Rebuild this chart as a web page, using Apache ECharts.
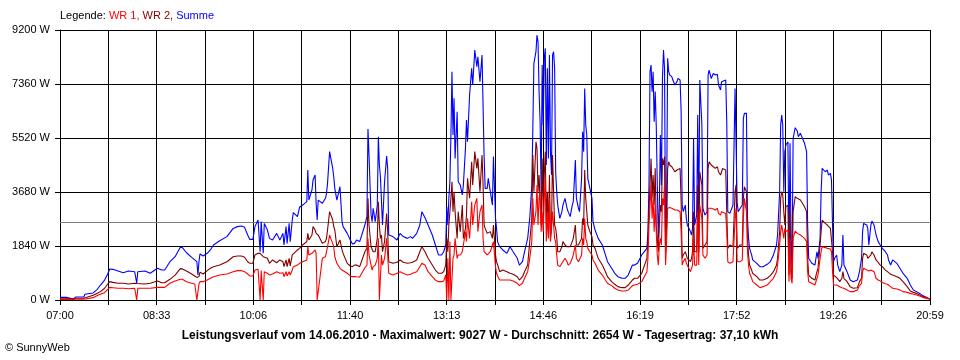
<!DOCTYPE html>
<html><head><meta charset="utf-8">
<script src="https://cdn.jsdelivr.net/npm/echarts@6/dist/echarts.min.js"></script>
<style>html,body{margin:0;padding:0;background:#fff}#c{width:960px;height:360px}</style>
</head><body><div id="c"></div>
<script>
const times = [
'07:00','07:06','07:07','07:13','07:15','07:23','07:24','07:32','07:36','07:39',
'07:43','07:46','07:48','07:51','07:56','08:01','08:06','08:12','08:14','08:15',
'08:22','08:27','08:34','08:38','08:41','08:46','08:51','08:56','08:58','09:02',
'09:07','09:10','09:12','09:13','09:14','09:15','09:18','09:22','09:25','09:28',
'09:34','09:41','09:47','09:51','09:55','09:58','10:01','10:03','10:06','10:08',
'10:11','10:13','10:14','10:16','10:17','10:20','10:22','10:25','10:29','10:32',
'10:35','10:36','10:38','10:39','10:41','10:42','10:44','10:45','10:49','10:51',
'10:54','10:58','10:59','11:00','11:03','11:04','11:06','11:07','11:08','11:09',
'11:13','11:16','11:17','11:18','11:20','11:21','11:23','11:24','11:25','11:27',
'11:30','11:32','11:33','11:37','11:40','11:42','11:44','11:46','11:49','11:50',
'11:54','11:56','11:57','11:58','12:00','12:01','12:02','12:04','12:06','12:07',
'12:08','12:09','12:10','12:11','12:13','12:15','12:16','12:17','12:21','12:25',
'12:28','12:31','12:35','12:38','12:40','12:44','12:47','12:49','12:52','12:55',
'12:59','13:02','13:05','13:08','13:10','13:12','13:13','13:14','13:15','13:16',
'13:17','13:18','13:19','13:20','13:21','13:23','13:24','13:26','13:28','13:29',
'13:31','13:32','13:33','13:35','13:37','13:38','13:40','13:42','13:43','13:45',
'13:47','13:48','13:49','13:50','13:52','13:53','13:55','13:57','13:58','14:00',
'14:01','14:02','14:04','14:07','14:11','14:14','14:17','14:21','14:23','14:26',
'14:28','14:31','14:33','14:35','14:36','14:37','14:39','14:40','14:41','14:42',
'14:43','14:44','14:45','14:46','14:47','14:48','14:49','14:50','14:51','14:52',
'14:53','14:54','14:55','14:56','14:57','14:58','14:59','15:00','15:02','15:04',
'15:05','15:07','15:09','15:10','15:12','15:14','15:15','15:17','15:18','15:20',
'15:21','15:23','15:24','15:25','15:26','15:27','15:28','15:29','15:31','15:33',
'15:34','15:36','15:39','15:43','15:46','15:48','15:52','15:55','15:58','16:02',
'16:05','16:08','16:12','16:14','16:17','16:21','16:22','16:26','16:27','16:28',
'16:29','16:30','16:31','16:32','16:33','16:34','16:35','16:36','16:37','16:38',
'16:39','16:40','16:41','16:42','16:43','16:44','16:45','16:46','16:47','16:48',
'16:50','16:51','16:53','16:55','16:56','16:58','16:59','17:00','17:01','17:03',
'17:04','17:05','17:08','17:09','17:10','17:11','17:12','17:14','17:15','17:16',
'17:17','17:19','17:20','17:22','17:24','17:25','17:26','17:28','17:30','17:32',
'17:34','17:35','17:37','17:38','17:39','17:42','17:43','17:44','17:46','17:49',
'17:51','17:52','17:53','17:54','17:56','17:58','17:59','18:00','18:02','18:03',
'18:04','18:05','18:07','18:08','18:12','18:15','18:18','18:22','18:25','18:28',
'18:31','18:32','18:34','18:35','18:36','18:37','18:38','18:39','18:40','18:42',
'18:43','18:44','18:45','18:46','18:47','18:49','18:51','18:52','18:54','18:56',
'18:57','18:58','19:00','19:01','19:02','19:05','19:08','19:10','19:11','19:13',
'19:14','19:15','19:18','19:20','19:21','19:23','19:24','19:25','19:26','19:27',
'19:29','19:30','19:32','19:34','19:35','19:36','19:39','19:42','19:45','19:49',
'19:51','19:53','19:54','19:55','19:58','19:59','20:00','20:02','20:03','20:05',
'20:07','20:09','20:11','20:13','20:16','20:18','20:19','20:21','20:23','20:27',
'20:30','20:33','20:37','20:40','20:43','20:46','20:49','20:52','20:56','20:59'
];
const summe = [
90,90,30,30,100,100,195,240,365,510,
680,885,1055,1045,990,930,990,965,570,965,
990,910,1080,1020,1020,1305,1475,1795,1785,1610,
1455,1365,1305,850,1305,1570,1500,1590,1705,1875,
2020,2160,2440,2500,2520,2475,2215,2065,2065,2500,
2725,1645,2670,1590,2610,2385,2100,2045,2270,2045,
2270,1875,2500,1930,2610,1990,2725,2975,2840,3160,
3235,3350,4430,3405,3750,4090,4260,3295,2725,3405,
3295,3465,3635,3975,5055,5000,4485,4200,3805,3405,
3860,2670,2500,2270,2045,1910,1930,2045,1990,1930,
2555,2840,5825,4940,2895,2670,3125,2670,3235,5565,
4600,4200,4200,2555,4030,4905,4485,2215,2160,2045,
2270,2160,2100,2160,2100,2270,2555,3010,2805,2555,
2215,1875,1535,1535,1645,1875,3180,2555,3465,4030,
5620,7780,5620,6870,4825,6415,4030,3920,3580,3920,
5165,6135,5395,6985,7895,7325,8520,7950,8290,7440,
8350,8350,4885,3805,3805,4145,3690,3235,4885,2780,
2440,1990,1815,1705,1590,1815,1645,1420,1190,1305,
1645,2100,2780,3920,5850,8065,8460,9030,8800,7100,
6075,3690,8005,5960,8235,8575,4600,7895,4825,8350,
5055,4260,8350,8460,7895,4370,3690,3235,2780,3010,
3235,3465,3125,3010,2840,3235,3350,4770,3465,3125,
3010,4145,5735,5055,7210,5960,5620,4145,3805,3465,
2670,2385,2100,1875,1535,1305,1080,910,795,740,
740,850,1190,1190,1250,1535,1535,1760,2330,3920,
7780,8005,7100,7780,6075,7100,5960,3920,2100,3235,
5620,3920,7550,8520,7895,1990,3235,8235,7780,7665,
7610,7495,7325,7440,7550,7495,6415,3235,3010,3235,
2780,2555,2330,2215,2440,5510,2555,2895,6300,2555,
7495,5960,3125,2895,3010,7665,7835,7550,7720,7665,
7690,7325,7155,7440,7495,7495,6075,3010,2950,3235,
7210,7270,3350,3010,3125,3235,6190,6360,6360,2780,
2100,1760,1535,1365,1250,1135,1135,1215,1305,1535,
1875,2215,3690,5960,6300,5960,3690,5055,5280,5395,
1420,5340,1990,1190,5510,5870,5760,5565,5680,5510,
5450,5340,5055,2555,1420,1250,1190,1645,1420,2100,
3690,4485,4370,4430,4260,4315,4090,2555,1305,1420,
1535,1190,965,1190,2215,1190,965,680,625,680,
965,1420,2330,2610,2555,2440,1875,2555,2690,2555,
2215,1990,1875,1760,1645,1535,1365,1190,1365,1250,
1080,910,740,510,340,285,225,150,80,35
];
const wr2 = [
45,45,30,45,60,60,115,160,230,285,
400,545,625,600,570,570,545,570,560,570,
545,570,650,590,590,705,850,1070,1060,990,
885,820,770,770,800,950,885,1000,1080,1135,
1190,1305,1475,1500,1500,1455,1305,1250,1250,1535,
1590,1590,1535,1475,1475,1420,1250,1365,1270,1365,
1305,1135,1365,1135,1420,1160,1535,1590,1705,1760,
1875,1990,2270,2045,2215,2500,2385,2270,2215,2215,
1930,1990,2100,2385,3010,2950,2725,2500,2385,1815,
2045,1705,1590,1250,1160,1135,1190,1190,1135,1160,
1645,1760,3465,2555,1815,1760,1645,1645,2100,3350,
2555,2100,2215,1645,1990,2950,2330,1305,1250,1285,
1365,1285,1250,1270,1285,1365,1645,1815,1645,1420,
1190,1020,910,910,965,1190,2100,1645,2555,2555,
3465,4030,3010,3690,3010,2100,3010,2330,3235,2100,
2440,2895,4145,3465,4710,3920,5055,4485,4825,3690,
4940,3920,2555,2440,2270,2330,2330,2100,2555,1535,
1305,1200,965,1020,965,910,875,795,680,795,
965,1190,1990,2780,4940,3690,5395,5165,3690,4260,
3350,2555,4825,3010,4260,5055,2555,3690,2330,4260,
2100,2440,4940,3690,2555,2440,2160,1645,1645,1815,
1990,1875,1815,1760,1815,1990,2100,2555,1875,1875,
1875,2100,2780,2555,4430,3465,3010,2555,2330,2160,
1875,1760,1420,1190,965,795,625,535,455,420,
420,510,680,740,740,910,965,1420,2100,3010,
3920,4825,3465,4260,3235,4485,2555,2100,1645,2555,
3235,3010,4825,4600,4885,1645,2555,4485,4710,4600,
4540,4485,4370,4430,4460,4485,3350,1420,1535,1645,
1535,1420,1305,1420,1645,3010,1645,1645,3920,1645,
4370,3920,1760,1875,1990,4485,4710,4600,4540,4485,
4540,4370,4260,4370,4485,4430,3010,1760,1875,1815,
3690,3920,1760,1815,1875,1875,3465,3860,3690,2100,
1535,1190,1020,910,795,680,680,740,830,965,
1190,1420,2330,3465,3690,3580,3010,2555,3180,3235,
850,3010,965,740,3010,3520,3465,3405,3405,3295,
3235,3180,3010,1420,850,740,680,965,1080,1875,
2330,2725,2610,2555,2555,2440,2440,1645,850,795,
760,740,625,740,965,740,625,455,400,420,
625,740,1420,1590,1535,1420,1475,1535,1645,1535,
1365,1285,1190,1135,1020,965,910,875,850,795,
740,625,455,305,260,225,170,115,80,25
];
const wr1 = [
20,20,15,15,25,25,55,80,150,195,
250,365,430,420,400,400,385,400,0,400,
400,400,430,430,430,570,650,705,705,625,
570,545,0,0,545,625,625,680,740,795,
850,885,965,1000,1000,965,885,820,820,1020,
1045,0,1000,0,965,910,850,885,965,910,
930,795,965,820,965,850,1020,1135,1190,1250,
1305,1365,1815,1535,1590,1650,1705,1590,0,0,
1420,1475,1535,1815,2215,2100,1930,1815,1475,1250,
1080,1020,1000,910,820,795,800,790,780,790,
1100,1190,2100,1535,1190,1020,1135,1190,1420,2100,
0,0,1535,1190,1420,2100,1535,910,850,910,
965,910,850,875,910,965,1135,1250,1190,965,
795,680,625,625,650,850,0,1420,0,1990,
0,0,1420,1535,2100,1420,1535,1535,1645,1645,
2330,1990,2780,2100,3350,2555,3235,3465,2330,3010,
3235,2100,1645,1645,1535,1590,1645,1875,1990,1135,
910,820,680,680,680,680,650,570,490,570,
740,965,1420,1990,3465,2555,3010,3920,2555,3465,
3690,2330,3010,2330,3465,4145,1990,3010,2100,3465,
1990,1990,3010,2555,2100,1990,1535,1190,1135,1250,
1305,1420,1305,1190,1250,1420,1535,1875,1420,1305,
1250,1535,2100,1875,2780,2100,1990,1760,1645,1535,
1365,1250,1020,850,680,570,490,400,340,305,
305,340,490,510,535,625,680,965,1420,2555,
3235,3920,2780,3465,2330,3235,2330,1535,1190,1875,
2100,1875,3465,3235,3920,1190,1990,3125,3180,3150,
3125,3065,3065,3065,3030,3010,2330,1190,1305,1420,
1250,1190,965,910,1190,2100,1190,1190,3010,1190,
3235,2780,1535,1420,1535,3125,3180,3125,3100,3065,
3125,2950,2895,3010,3010,2950,2330,1305,1250,1305,
2780,3125,1305,1305,1305,1365,2780,3465,3010,1645,
1190,910,740,625,510,420,455,510,625,740,
965,1190,1875,2330,2555,2330,2100,2440,2330,2385,
625,2100,740,570,2100,2350,2270,2215,2215,2160,
2160,2100,1990,965,625,570,510,740,850,1420,
1645,1815,1785,1760,1760,1740,1645,965,510,510,
510,490,455,420,400,400,340,285,285,340,
490,570,965,1080,1020,965,990,1020,1080,965,
740,680,650,600,555,535,490,455,400,375,
340,285,260,225,195,170,135,90,55,35
];
const tickLabels = ['07:00','08:33','10:06','11:40','13:13','14:46','16:19','17:52','19:26','20:59'];
const dayStart = '07:00', dayEnd = '20:59';
const yMax = 9200, yStep = 1840;
const averageW = 2654;
const footerText = 'Leistungsverlauf vom 14.06.2010 - Maximalwert: 9027 W - Durchschnitt: 2654 W - Tagesertrag: 37,10 kWh';

function toMin(t){ const p = t.split(':').map(Number); return p[0]*60 + p[1]; }
const x0 = toMin(dayStart), span = toMin(dayEnd) - x0;
const step = span / 18;
const pts = arr => times.map((t, i) => [toMin(t) - x0, arr[i]]);
const FONT = '"Liberation Sans", Arial, sans-serif';

const chart = echarts.init(document.getElementById('c'), null, {renderer: 'canvas'});
chart.setOption({
  animation: false,
  backgroundColor: '#ffffff',
  grid: {left: 60, right: 30, top: 30, bottom: 60, containLabel: false},
  title: [
    {left: 60, top: 10, padding: 0,
     text: '{k|Legende: }{a|WR 1, }{b|WR 2, }{c|Summe}',
     textStyle: {fontSize: 11, fontWeight: 'normal', fontFamily: FONT,
       rich: {
         k: {color: '#000000', fontSize: 11, fontFamily: FONT},
         a: {color: '#ff0000', fontSize: 11, fontFamily: FONT},
         b: {color: '#800000', fontSize: 11, fontFamily: FONT},
         c: {color: '#0000ff', fontSize: 11, fontFamily: FONT}
       }}},
    {left: 'center', top: 330, padding: 0, text: footerText,
     textStyle: {fontSize: 12, fontWeight: 'bold', color: '#000', fontFamily: FONT}},
    {left: 5, top: 342, padding: 0, text: '\u00A9 SunnyWeb',
     textStyle: {fontSize: 11, fontWeight: 'normal', color: '#000', fontFamily: FONT}}
  ],
  xAxis: {
    type: 'value', min: 0, max: span, interval: step,
    axisLine: {show: true, lineStyle: {color: '#000', width: 1}},
    axisTick: {show: true, length: 5, lineStyle: {color: '#000', width: 1}},
    splitLine: {show: true, lineStyle: {color: '#000', width: 1}},
    axisLabel: {
      color: '#000', fontSize: 11, fontFamily: FONT, margin: 10,
      showMinLabel: true, showMaxLabel: true,
      formatter: v => {
        const i = Math.round(v / step);
        if (Math.abs(v - i * step) > 0.5 || i % 2 !== 0) return '';
        return tickLabels[i / 2] || '';
      }
    }
  },
  yAxis: {
    type: 'value', min: 0, max: yMax, interval: yStep,
    axisLine: {show: true, lineStyle: {color: '#000', width: 1}},
    axisTick: {show: true, length: 5, lineStyle: {color: '#000', width: 1}},
    splitLine: {show: true, lineStyle: {color: '#000', width: 1}},
    axisLabel: {color: '#000', fontSize: 11, fontFamily: FONT, margin: 10,
      formatter: v => v + ' W'}
  },
  series: [
    {name: 'Summe', type: 'line', data: pts(summe), showSymbol: false, symbol: 'none',
     lineStyle: {color: '#0000ff', width: 1.1}, itemStyle: {color: '#0000ff'},
     markLine: {silent: true, symbol: 'none', z: 1, label: {show: false},
       lineStyle: {color: '#808080', type: 'solid', width: 1},
       emphasis: {disabled: true},
       data: [{yAxis: averageW}]}},
    {name: 'WR 2', type: 'line', data: pts(wr2), showSymbol: false, symbol: 'none',
     lineStyle: {color: '#800000', width: 1.1}, itemStyle: {color: '#800000'}},
    {name: 'WR 1', type: 'line', data: pts(wr1), showSymbol: false, symbol: 'none',
     lineStyle: {color: '#ff0000', width: 1.1}, itemStyle: {color: '#ff0000'}}
  ]
});
</script>
</body></html>
